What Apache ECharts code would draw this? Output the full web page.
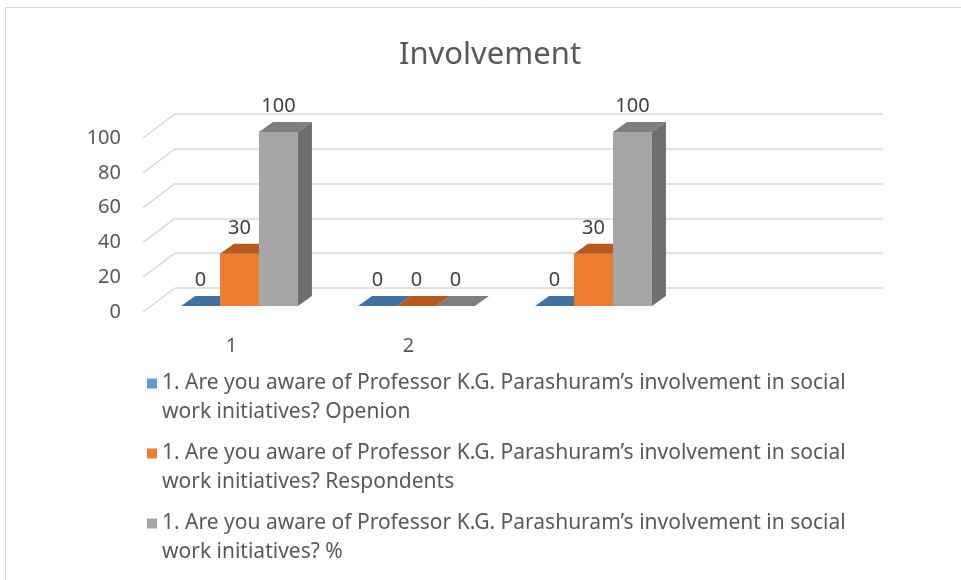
<!DOCTYPE html>
<html>
<head>
  <meta charset="utf-8">
  <script src="https://cdn.jsdelivr.net/npm/echarts@6/dist/echarts.min.js"></script>
  <title>Involvement</title>
  <style type="text/css">
    html,
    body {
      margin: 0;
      background-color: #fff;
    }

    #main {
      width: 961px;
      height: 580px;
    }
  </style>
</head>
<body>
  <div id="main"></div>
  <script type="text/javascript">
    // data
    var categories = ['1', '2', '', ''];
    var opinion = [0, 0, 0];
    var respondents = [30, 0, 30];
    var percent = [100, 0, 100];
    var yTicks = [0, 20, 40, 60, 80, 100];
    var seriesNames = [
      '1. Are you aware of Professor K.G. Parashuram\u2019s involvement in social\nwork initiatives? Openion',
      '1. Are you aware of Professor K.G. Parashuram\u2019s involvement in social\nwork initiatives? Respondents',
      '1. Are you aware of Professor K.G. Parashuram\u2019s involvement in social\nwork initiatives? %'
    ];

    var FONT = '"Noto Sans", "Open Sans", sans-serif';
    // 3d offsets: wall depth and bar depth
    var WALL_DX = 32, WALL_DY = 24;
    var BAR_DX = 14, BAR_DY = 10;

    var myChart = echarts.init(document.getElementById('main'));

    function toData(arr) {
      var out = [];
      for (var i = 0; i < arr.length; i++) {
        out.push([i, arr[i]]);
      }
      return out;
    }

    function makeBar(idx, front, top, side) {
      return function (params, api) {
        var cat = api.value(0);
        var v = api.value(1);
        var base = api.coord([cat, 0]);
        var tip = api.coord([cat, v]);
        var catW = api.size([1, 0])[0];
        var bw = catW * 0.22;
        var x0 = base[0] + (idx - 1.5) * bw - 24;
        var yb = base[1] + 18;
        var yt = tip[1] + 18;
        return {
          type: 'group',
          children: [{
            type: 'rect',
            shape: { x: x0, y: yt, width: bw, height: yb - yt },
            style: { fill: front }
          }, {
            type: 'polygon',
            shape: { points: [[x0, yt], [x0 + bw, yt], [x0 + bw + BAR_DX, yt - BAR_DY], [x0 + BAR_DX, yt - BAR_DY]] },
            style: { fill: top }
          }, {
            type: 'polygon',
            shape: { points: [[x0 + bw, yt], [x0 + bw + BAR_DX, yt - BAR_DY], [x0 + bw + BAR_DX, yb - BAR_DY], [x0 + bw, yb]] },
            style: { fill: side }
          }, {
            type: 'text',
            style: {
              text: String(v),
              x: x0 + bw / 2,
              y: yt - 26,
              align: 'center',
              verticalAlign: 'middle',
              fill: '#404040',
              font: '20px ' + FONT
            }
          }]
        };
      };
    }

    // diagonal floor/wall lines on the left side
    function renderDiag(params, api) {
      var p = api.coord([0, api.value(1)]);
      var x = params.coordSys.x;
      return {
        type: 'line',
        shape: { x1: x - WALL_DX, y1: p[1] + WALL_DY, x2: x, y2: p[1] },
        style: { stroke: '#D9D9D9', lineWidth: 1.5 }
      };
    }

    var diagData = [];
    for (var i = 0; i < yTicks.length; i++) {
      diagData.push([0, yTicks[i]]);
    }

    var option = {
      backgroundColor: '#fff',
      animation: false,
      title: {
        text: 'Involvement',
        left: 485,
        top: 35,
        textAlign: 'center',
        textStyle: {
          color: '#595959',
          fontSize: 31,
          fontWeight: 'normal',
          fontFamily: FONT
        }
      },
      legend: {
        orient: 'vertical',
        left: 147,
        top: 340,
        padding: 0,
        itemWidth: 10,
        itemHeight: 10,
        itemGap: -17,
        icon: 'rect',
        selectedMode: false,
        data: seriesNames,
        // leading empty line keeps the icon level with the first text line
        formatter: function (name) {
          return '\n' + name;
        },
        textStyle: {
          color: '#595959',
          fontSize: 21,
          lineHeight: 29,
          fontFamily: FONT
        }
      },
      graphic: [{
        type: 'rect',
        shape: { x: 5.5, y: 7.5, width: 1000, height: 600 },
        style: { fill: 'none', stroke: '#D9D9D9', lineWidth: 1 },
        silent: true
      }],
      grid: [{
        // back wall
        left: 175, right: 78, top: 114, bottom: 292
      }, {
        // front edge (labels)
        left: 175 - WALL_DX, right: 78 + WALL_DX, top: 114 + WALL_DY, bottom: 292 - WALL_DY
      }],
      xAxis: [{
        type: 'category',
        gridIndex: 0,
        data: categories,
        axisLine: { show: false },
        axisTick: { show: false },
        axisLabel: { show: false }
      }, {
        type: 'category',
        gridIndex: 1,
        data: categories,
        axisLine: { show: false },
        axisTick: { show: false },
        axisLabel: { color: '#595959', fontSize: 20, margin: 24, fontFamily: FONT }
      }],
      yAxis: [{
        type: 'value',
        gridIndex: 0,
        min: 0,
        max: 100,
        interval: 20,
        axisLine: { show: false },
        axisTick: { show: false },
        axisLabel: { show: false },
        splitLine: { lineStyle: { color: '#D9D9D9', width: 1.5 } }
      }, {
        type: 'value',
        gridIndex: 1,
        min: 0,
        max: 100,
        interval: 20,
        axisLine: { show: false },
        axisTick: { show: false },
        splitLine: { show: false },
        axisLabel: { color: '#595959', fontSize: 20, margin: 22, fontFamily: FONT }
      }],
      series: [{
        name: 'grid-diag',
        type: 'custom',
        xAxisIndex: 0,
        yAxisIndex: 0,
        silent: true,
        z: 1,
        renderItem: renderDiag,
        data: diagData
      }, {
        name: seriesNames[0],
        type: 'custom',
        xAxisIndex: 0,
        yAxisIndex: 0,
        z: 2,
        itemStyle: { color: '#5B9BD5' },
        renderItem: makeBar(0, '#5B9BD5', '#41719C', '#3E6A93'),
        data: toData(opinion)
      }, {
        name: seriesNames[1],
        type: 'custom',
        xAxisIndex: 0,
        yAxisIndex: 0,
        z: 3,
        itemStyle: { color: '#ED7D31' },
        renderItem: makeBar(1, '#ED7D31', '#B5591F', '#A8521C'),
        data: toData(respondents)
      }, {
        name: seriesNames[2],
        type: 'custom',
        xAxisIndex: 0,
        yAxisIndex: 0,
        z: 4,
        itemStyle: { color: '#A5A5A5' },
        renderItem: makeBar(2, '#A5A5A5', '#7F7F7F', '#6E6E6E'),
        data: toData(percent)
      }]
    };

    myChart.setOption(option);
  </script>
</body>
</html>
